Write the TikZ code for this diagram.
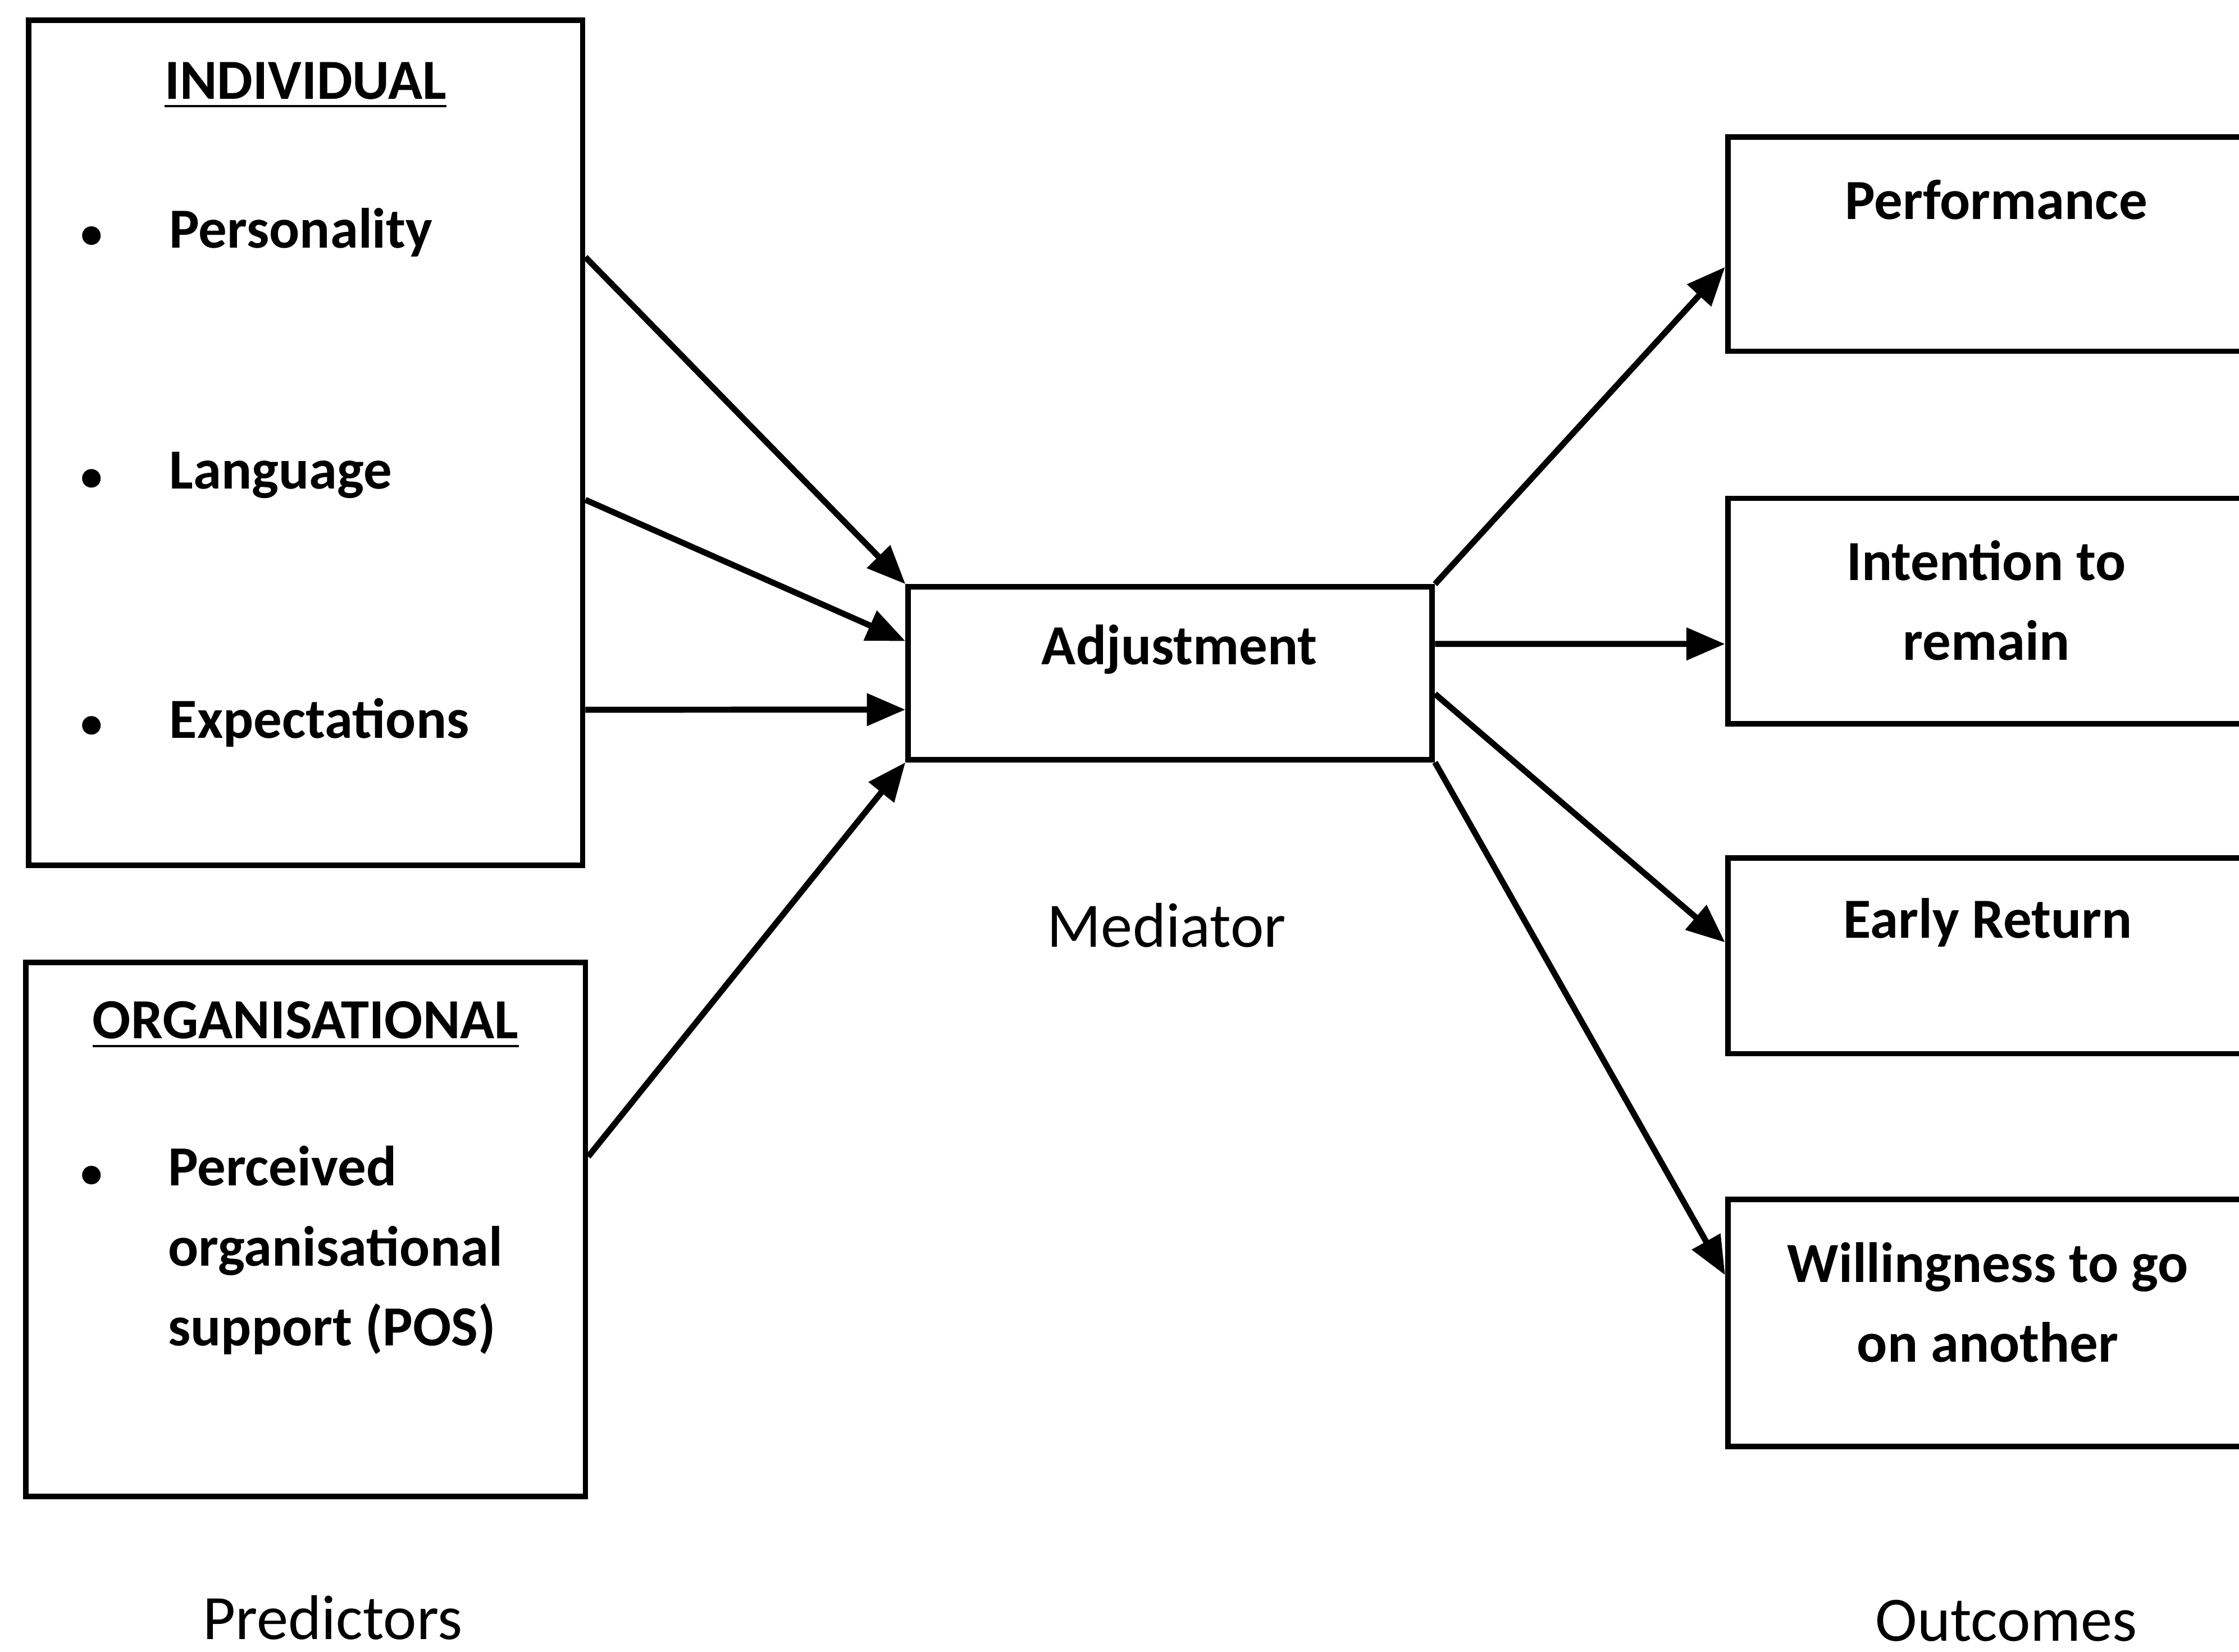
\documentclass[tikz,border=0pt]{standalone}
\usepackage{fontspec}
\setmainfont{Carlito}
\usetikzlibrary{arrows.meta, positioning, calc}

\begin{document}
\begin{tikzpicture}[
  box/.style={draw, line width=1.1pt, inner sep=0pt},
  dot/.style={circle, fill, inner sep=0pt, minimum size=0.13cm},
  itm/.style={font=\fontsize{11.3}{15.9}\selectfont\bfseries, inner sep=0pt, anchor=west, align=left},
  ttl/.style={font=\fontsize{11.3}{15.9}\selectfont\bfseries, inner sep=0pt, align=center},
  capt/.style={font=\fontsize{12.6}{15}\selectfont, inner sep=0pt},
  link/.style={-{Triangle[length=0.27cm, width=0.22cm]}, line width=1.2pt}
]
  \useasboundingbox (0,0) rectangle (15.68,-11.57);

  % predictors
  \node[box, minimum width=3.88cm, minimum height=5.92cm] (indiv) at (2.14,-3.10) {};
  \node[ttl] (indivttl) at (2.14,-0.60) {\underline{INDIVIDUAL}};
  \node[dot] (b1) at (0.64,-1.65) {};
  \node[itm] (pers) at (1.18,-1.63) {Personality};
  \node[dot] (b2) at (0.64,-3.35) {};
  \node[itm] (lang) at (1.18,-3.33) {Language};
  \node[dot] (b3) at (0.64,-5.08) {};
  \node[itm] (expec) at (1.18,-5.06) {Expectations};

  \node[box, minimum width=3.92cm, minimum height=3.74cm] (organ) at (2.14,-8.61) {};
  \node[ttl] (organttl) at (2.14,-7.18) {\underline{ORGANISATIONAL}};
  \node[dot] (b4) at (0.64,-8.23) {};
  \node[itm, anchor=north west] (pos) at (1.17,-8.02) {Perceived\\organisational\\support (POS)};

  % mediator
  \node[box, minimum width=3.67cm, minimum height=1.21cm] (adjust) at (8.195,-4.715) {};
  \node[ttl] (adjustttl) at (8.26,-4.55) {Adjustment};

  % outcomes
  \node[box, minimum width=3.65cm, minimum height=1.50cm] (perf) at (13.925,-1.71) {};
  \node[ttl] (perfttl) at (13.98,-1.40) {Performance};
  \node[box, minimum width=3.65cm, minimum height=1.58cm] (intent) at (13.925,-4.28) {};
  \node[ttl] (intentttl) at (13.91,-4.205) {Intention to\\remain};
  \node[box, minimum width=3.65cm, minimum height=1.37cm] (early) at (13.925,-6.695) {};
  \node[ttl] (earlyttl) at (13.92,-6.46) {Early Return};
  \node[box, minimum width=3.65cm, minimum height=1.73cm] (willing) at (13.925,-9.265) {};
  \node[ttl] (willingttl) at (13.92,-9.12) {Willingness to go\\on another};

  \node[capt] (med) at (8.17,-6.48) {Mediator};
  \node[capt] (pred) at (2.33,-11.33) {Predictors};
  \node[capt] (outc) at (14.05,-11.35) {Outcomes};

  \draw[link] ($(indiv.north east)+(0,-1.68)$) -- (adjust.north west);
  \draw[link] ($(indiv.north east)+(0,-3.38)$) -- ($(adjust.west)+(0,0.225)$);
  \draw[link] ($(indiv.north east)+(0,-4.85)$) -- ($(adjust.west)+(0,-0.255)$);
  \draw[link] ($(organ.north east)+(0,-1.38)$) -- (adjust.south west);

  \draw[link] (adjust.north east) -- ($(perf.west)+(0,-0.16)$);
  \draw[link] ($(adjust.east)+(0,0.205)$) -- ($(intent.west)+(0,-0.23)$);
  \draw[link] ($(adjust.east)+(0,-0.145)$) -- ($(early.west)+(0,0.095)$);
  \draw[link] (adjust.south east) -- ($(willing.west)+(0,0.335)$);
\end{tikzpicture}
\end{document}
